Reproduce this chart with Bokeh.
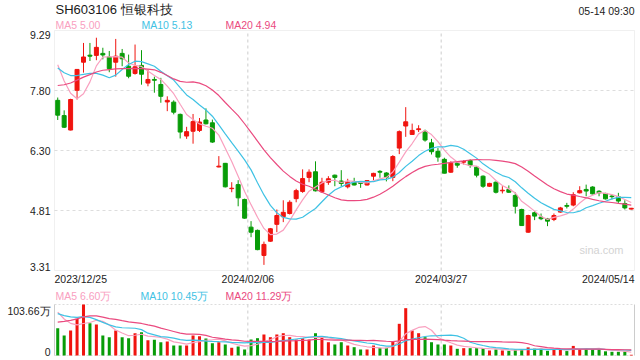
from bokeh.plotting import figure
from bokeh.models import Range1d, Label, BoxAnnotation, ColumnDataSource
from bokeh.embed import file_html
from bokeh.resources import INLINE

# ---------------- data ----------------
title_text = "SH603106 恒银科技"
time_text = "05-14 09:30"
date_labels = ["2023/12/25", "2024/02/06", "2024/03/27", "2024/05/14"]
price_ticks = [3.31, 4.805, 6.30, 7.795, 9.29]
price_tick_labels = ["3.31", "4.81", "6.30", "7.80", "9.29"]
vol_max = 103.66
vol_tick_labels = ["0", "103.66万"]
main_legend = ["MA5 5.00", "MA10 5.13", "MA20 4.94"]
vol_legend = ["MA5 6.60万", "MA10 10.45万", "MA20 11.29万"]
watermark = "sina.com"

opens = [7.55, 7.17, 6.81, 7.80, 8.50, 8.675, 8.67, 8.72, 8.63, 8.50,
         8.72, 8.40, 8.22, 8.42, 7.98, 8.07, 7.945, 7.51, 7.505, 7.20,
         6.66, 6.78, 6.80, 7.06, 6.99, 5.89, 5.98, 5.35, 5.45, 5.08,
         4.39, 4.31, 3.685, 4.04, 4.46, 4.65, 4.73, 5.10, 5.28, 5.63,
         5.77, 5.27, 5.51, 5.685, 5.54, 5.395, 5.52, 5.51, 5.44, 5.66,
         5.78, 5.74, 5.63, 6.36, 6.91, 6.70, 6.82, 6.78, 6.49, 6.28,
         6.08, 5.76, 5.985, 6.01, 6.05, 5.885, 5.66, 5.41, 5.51, 5.295,
         5.33, 5.18, 4.83, 4.265, 4.75, 4.64, 4.60, 4.58, 4.765, 4.93,
         4.94, 5.245, 5.33, 5.39, 5.285, 5.23, 5.165, 5.145, 4.98, 4.84]
highs = [7.62, 7.30, 7.59, 8.33, 8.98, 8.98, 9.11, 8.86, 8.78, 9.08,
         8.83, 8.69, 8.94, 8.80, 8.32, 8.14, 8.11, 7.65, 7.55, 7.22,
         6.89, 7.21, 7.11, 7.35, 7.07, 6.16, 5.99, 5.51, 5.56, 5.10,
         4.54, 4.33, 4.03, 4.37, 4.83, 5.06, 5.06, 5.345, 5.83, 5.83,
         6.03, 5.62, 5.66, 5.70, 5.81, 5.595, 5.62, 5.535, 5.56, 5.745,
         5.81, 5.76, 6.185, 6.80, 7.38, 6.97, 6.93, 6.82, 6.59, 6.36,
         6.12, 6.03, 6.03, 6.06, 6.08, 5.91, 5.68, 5.495, 5.53, 5.41,
         5.43, 5.26, 4.85, 4.70, 4.79, 4.73, 4.62, 4.73, 4.895, 4.995,
         5.26, 5.41, 5.45, 5.41, 5.31, 5.245, 5.20, 5.245, 5.06, 4.87]
lows = [7.06, 6.86, 6.80, 7.57, 8.24, 8.53, 8.55, 8.57, 8.25, 8.14,
        8.40, 8.10, 8.19, 7.94, 7.90, 7.74, 7.49, 7.28, 7.20, 6.60,
        6.59, 6.47, 6.76, 6.95, 6.49, 5.88, 5.38, 5.26, 4.91, 4.60,
        4.14, 3.815, 3.45, 4.025, 4.265, 4.515, 4.705, 5.01, 5.245, 5.51,
        5.28, 5.245, 5.445, 5.41, 5.41, 5.355, 5.43, 5.37, 5.43, 5.56,
        5.62, 5.53, 5.535, 6.21, 6.64, 6.69, 6.76, 6.52, 6.20, 6.02,
        5.73, 5.745, 5.87, 5.95, 5.87, 5.63, 5.37, 5.395, 5.23, 5.23,
        5.245, 4.73, 4.42, 4.25, 4.565, 4.565, 4.415, 4.54, 4.75, 4.855,
        4.91, 5.23, 5.16, 5.205, 5.16, 5.08, 5.08, 4.995, 4.83, 4.83]
closes = [7.18, 6.88, 7.57, 8.32, 8.63, 8.65, 8.87, 8.68, 8.34, 8.65,
          8.585, 8.15, 8.385, 8.20, 8.07, 8.05, 7.65, 7.55, 7.255, 6.76,
          6.77, 7.02, 7.01, 6.965, 6.51, 5.91, 5.395, 5.36, 5.12, 4.615,
          4.265, 3.83, 3.96, 4.35, 4.68, 4.76, 5.01, 5.30, 5.60, 5.76,
          5.295, 5.51, 5.595, 5.63, 5.48, 5.51, 5.44, 5.48, 5.55, 5.73,
          5.76, 5.635, 6.15, 6.77, 7.015, 6.80, 6.84, 6.56, 6.27, 6.135,
          5.735, 5.985, 5.935, 6.025, 5.93, 5.685, 5.41, 5.48, 5.26, 5.31,
          5.26, 4.91, 4.43, 4.68, 4.665, 4.60, 4.54, 4.68, 4.87, 4.91,
          5.20, 5.30, 5.29, 5.22, 5.245, 5.095, 5.15, 5.04, 4.87, 4.86]
# volume in 万 shares
volumes = [55.5, 40.7, 50.8, 74.6, 103.66, 65.7, 63.0, 40.7, 37.2, 50.8,
           37.2, 35.2, 45.3, 47.4, 31.1, 31.9, 27.0, 28.5, 20.3, 20.3,
           20.3, 40.7, 39.2, 34.6, 25.0, 27.0, 22.4, 15.6, 18.3, 12.2,
           32.5, 35.2, 42.7, 37.2, 42.7, 45.3, 37.2, 32.5, 35.2, 32.5,
           45.3, 38.6, 27.0, 22.4, 27.0, 20.3, 16.9, 12.2, 12.2, 20.3,
           15.6, 15.6, 28.5, 64.4, 96.2, 50.8, 45.3, 37.2, 27.0, 22.4,
           22.4, 20.3, 13.6, 14.9, 14.9, 14.9, 14.9, 10.2, 12.2, 10.2,
           9.5, 12.0, 12.0, 16.5, 14.0, 14.0, 9.5, 12.3, 12.5, 9.0,
           19.5, 13.0, 13.0, 13.5, 12.5, 8.5, 7.5, 7.5, 8.0, 1.5]
# sessions before the window (needed for the moving averages at the left edge)
prior_closes = [6.5, 6.7, 6.9, 7.1, 7.4, 7.6, 7.8, 8.0, 8.3, 8.5,
                8.08, 8.27, 8.32, 8.33, 8.40, 8.9, 9.1, 9.0, 8.0]
prior_volumes = [10, 12, 15, 20, 30, 60, 90, 100, 85, 88,
                 80, 75, 85, 90, 80, 110, 95, 90, 89.5]

# ---------------- styling / layout (pixels) ----------------
FONT = "Liberation Sans"
RED = "#f0140f"
GREEN = "#089c08"
C_MA5 = "#f9a0bf"
C_MA10 = "#3fc2e4"
C_MA20 = "#ea4a7f"
TXT = "#222222"
BORDER = "#cccccc"
GRID = "#dddddd"

W, H = 640, 360
PX_L, PX_R = 54, 634          # plot area left / right
PY_T, PY_B = 30, 270          # price panel top / bottom
VY_T, VY_B = 304, 355         # volume panel top / bottom

n = len(closes)
xs = list(range(n))
colors = [RED if c >= o else GREEN for o, c in zip(opens, closes)]


def moving_average(prior, series, k):
    full = prior + series
    off = len(prior)
    return [sum(full[off + i - k + 1: off + i + 1]) / k for i in range(len(series))]


ma_c = {k: moving_average(prior_closes, closes, k) for k in (5, 10, 20)}
ma_v = {k: moving_average(prior_volumes, volumes, k) for k in (5, 10, 20)}

src = ColumnDataSource(dict(
    x=xs, high=highs, low=lows,
    top=[max(o, c) for o, c in zip(opens, closes)],
    bottom=[min(o, c) for o, c in zip(opens, closes)],
    color=colors, vol=volumes,
    ma5=ma_c[5], ma10=ma_c[10], ma20=ma_c[20],
    vma5=ma_v[5], vma10=ma_v[10], vma20=ma_v[20],
))

x_lo, x_hi = -0.5, n - 0.5
p_lo, p_hi = price_ticks[0], price_ticks[-1]
divs = [x_lo + n / 3, x_lo + 2 * n / 3]

ppx = (PX_R - PX_L) / (x_hi - x_lo)
ppy = (PY_B - PY_T) / (p_hi - p_lo)
ppv = (VY_B - VY_T) / vol_max

p = figure(width=W, height=H, output_backend="svg", toolbar_location=None,
           x_range=Range1d(x_lo - PX_L / ppx, x_hi + (W - PX_R) / ppx),
           y_range=Range1d(p_lo - (H - PY_B) / ppy, p_hi + PY_T / ppy),
           x_axis_location=None, y_axis_location=None,
           min_border=0, min_border_left=0, min_border_right=0,
           min_border_top=0, min_border_bottom=0)
p.extra_y_ranges = {"vol": Range1d(0 - (H - VY_B) / ppv, vol_max + VY_T / ppv)}
p.grid.visible = False
p.outline_line_color = None
p.background_fill_color = "white"
p.border_fill_color = "white"

# ----- price panel frame and grid -----
p.segment(x0=[x_lo] * 3, x1=[x_hi] * 3, y0=price_ticks[1:-1], y1=price_ticks[1:-1],
          line_color=GRID, line_dash="3 3", line_width=1)
p.segment(x0=divs, x1=divs, y0=[p_lo] * 2, y1=[p_hi] * 2,
          line_color=BORDER, line_dash="3 3", line_width=1)
p.add_layout(BoxAnnotation(left=x_lo, right=x_hi, bottom=p_lo, top=p_hi,
                           fill_alpha=0, fill_color=None, line_color=BORDER, line_width=1))

# ----- candles -----
p.segment(x0="x", y0="low", x1="x", y1="high", color="color", line_width=1, source=src)
p.vbar(x="x", width=0.62, top="top", bottom="bottom", fill_color="color",
       line_color="color", line_width=1, source=src)
p.line("x", "ma5", color=C_MA5, line_width=1.2, source=src)
p.line("x", "ma10", color=C_MA10, line_width=1.2, source=src)
p.line("x", "ma20", color=C_MA20, line_width=1.2, source=src)

# ----- volume panel -----
p.segment(x0=[x_lo, x_lo], x1=[x_hi, x_hi], y0=[vol_max, 0], y1=[vol_max, 0],
          line_color=GRID, line_dash="2 2", line_width=1, y_range_name="vol")
p.segment(x0=[x_lo, x_hi], x1=[x_lo, x_hi], y0=[0, 0], y1=[vol_max, vol_max],
          line_color=BORDER, line_width=1, y_range_name="vol")
p.segment(x0=divs, x1=divs, y0=[0, 0], y1=[vol_max, vol_max],
          line_color=BORDER, line_dash="3 3", line_width=1, y_range_name="vol")
p.vbar(x="x", width=0.47, top="vol", bottom=0, fill_color="color", line_color=None,
       source=src, y_range_name="vol")
p.line("x", "vma5", color=C_MA5, line_width=1.2, source=src, y_range_name="vol")
p.line("x", "vma10", color=C_MA10, line_width=1.2, source=src, y_range_name="vol")
p.line("x", "vma20", color=C_MA20, line_width=1.2, source=src, y_range_name="vol")


# ----- texts -----
def lab(text, x, y, xu="screen", yu="screen", align="left", base="middle",
        color=TXT, size="10.5px", y_range_name="default"):
    if xu == "screen":
        x = x
    if yu == "screen":
        y = H - y
    p.add_layout(Label(x=x, y=y, x_units=xu, y_units=yu, text=text,
                       text_align=align, text_baseline=base, text_color=color,
                       text_font=FONT, text_font_size=size, y_range_name=y_range_name))


lab(title_text, 55, 8.5, size="13px", color="#1a1a1a")
lab(time_text, PX_R, 10, align="right")
for t, xx, c in zip(main_legend, [55, 141, 225], [C_MA5, C_MA10, C_MA20]):
    lab(t, xx, 24, color=c)
for t, xx, c in zip(vol_legend, [55, 140, 225], [C_MA5, C_MA10, C_MA20]):
    lab(t, xx, 295, color=c)

for i, (tv, tl) in enumerate(zip(price_ticks, price_tick_labels)):
    base = "bottom" if i == 0 else ("top" if i == len(price_ticks) - 1 else "middle")
    lab(tl, PX_L - 4, tv, yu="data", align="right", base=base)
lab(vol_tick_labels[1], PX_L - 4, vol_max, yu="data", align="right", base="top",
    y_range_name="vol")
lab(vol_tick_labels[0], PX_L - 4, 0, yu="data", align="right", base="bottom",
    y_range_name="vol")

date_x = [x_lo, divs[0], divs[1], x_hi]
date_align = ["left", "center", "center", "right"]
for t, xx, al in zip(date_labels, date_x, date_align):
    lab(t, xx, 278, xu="data", align=al)

lab(watermark, 623, 249, align="right", color="#d3d3d3", size="11px")

open("out.html", "w").write(file_html(p, INLINE))
